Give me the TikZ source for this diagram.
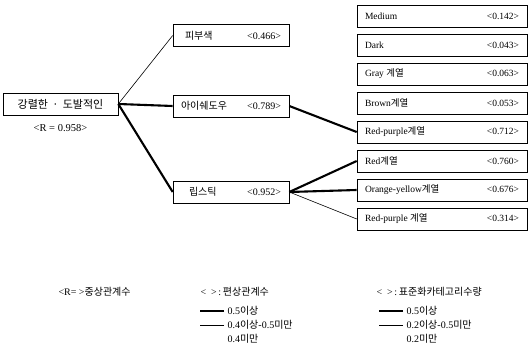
\documentclass[tikz,border=0pt]{standalone}
\usepackage{fontspec}
\setmainfont{Liberation Serif}
\newfontfamily\kr{Noto Sans CJK KR}
\newcommand\kg{{\kr 계열}}

\begin{document}
\begin{tikzpicture}[x=1pt, y=-1pt, font=\fontsize{10}{12}\selectfont,
    box/.style={draw, line width=0.6pt, minimum height=22pt, inner xsep=8pt, inner ysep=0pt},
    strong/.style={line width=2.1pt},
    weak/.style={line width=0.6pt}]
    \useasboundingbox (0,0) rectangle (530,358);
    \node[box, minimum width=115pt, font=\fontsize{11}{13}\selectfont] (total) at (60.5,104) {\kr 강렬한 \,·\, 도발적인};
    \node[font=\fontsize{10.5}{12}\selectfont] (rval) at (60.5,128) {<R = 0.958>};
    \node[box] (skin) at (231,35.5) {\parbox{100pt}{\hspace{4pt}{\kr 피부색}\hfill<0.466>\hspace{4pt}}};
    \node[box] (shadow) at (231,106) {\parbox{100pt}{{\kr 아이쉐도우}\hfill<0.789>}};
    \node[box] (lip) at (231,192) {\parbox{100pt}{\hspace{8pt}{\kr 립스틱}\hfill<0.952>}};
    \foreach \name/\y/\lab/\val in {medium/16/Medium/0.142, dark/45/Dark/0.043,
        gray/74/Gray \kg/0.063, brown/103/Brown\kg/0.053, rpurpleA/132/Red-purple\kg/0.712,
        red/161/Red\kg/0.760, orange/190/Orange-yellow\kg/0.676, rpurpleB/219/Red-purple \kg/0.314}
        \node[box, font=\fontsize{9.5}{11}\selectfont] (\name) at (442,\y) {\parbox{154pt}{\lab\hfill<\val>}};
    \draw[weak] (total.east) -- (skin.west);
    \draw[strong] (total.east) -- (shadow.west);
    \draw[strong] (total.east) -- (lip.west);
    \draw[strong] (shadow.east) -- (rpurpleA.west);
    \draw[strong] (lip.east) -- (red.west);
    \draw[strong] (lip.east) -- (orange.west);
    \draw[weak] (lip.east) -- (rpurpleB.west);
    \node[anchor=west] (lgR) at (55,292) {<R= >{\kr 중상관계수}};
    \node[anchor=west] (lgP) at (197,292) {<\ \ >\,:\,{\kr 편상관계수}};
    \node[anchor=west] (lgS) at (373,292) {<\ \ >\,:\,{\kr 표준화카테고리수량}};
    \node[anchor=west] (p1) at (224,311) {0.5{\kr 이상}};
    \node[anchor=west] (p2) at (224,325) {0.4{\kr 이상}-0.5{\kr 미만}};
    \node[anchor=west] (p3) at (224,339) {0.4{\kr 미만}};
    \node[anchor=west] (s1) at (403,311) {0.5{\kr 이상}};
    \node[anchor=west] (s2) at (403,325) {0.2{\kr 이상}-0.5{\kr 미만}};
    \node[anchor=west] (s3) at (403,339) {0.2{\kr 미만}};
    \draw[strong] (p1.west) -- ++(-24,0);
    \draw[weak] (p2.west) -- ++(-24,0);
    \draw[strong] (s1.west) -- ++(-24,0);
    \draw[weak] (s2.west) -- ++(-24,0);
\end{tikzpicture}
\end{document}
